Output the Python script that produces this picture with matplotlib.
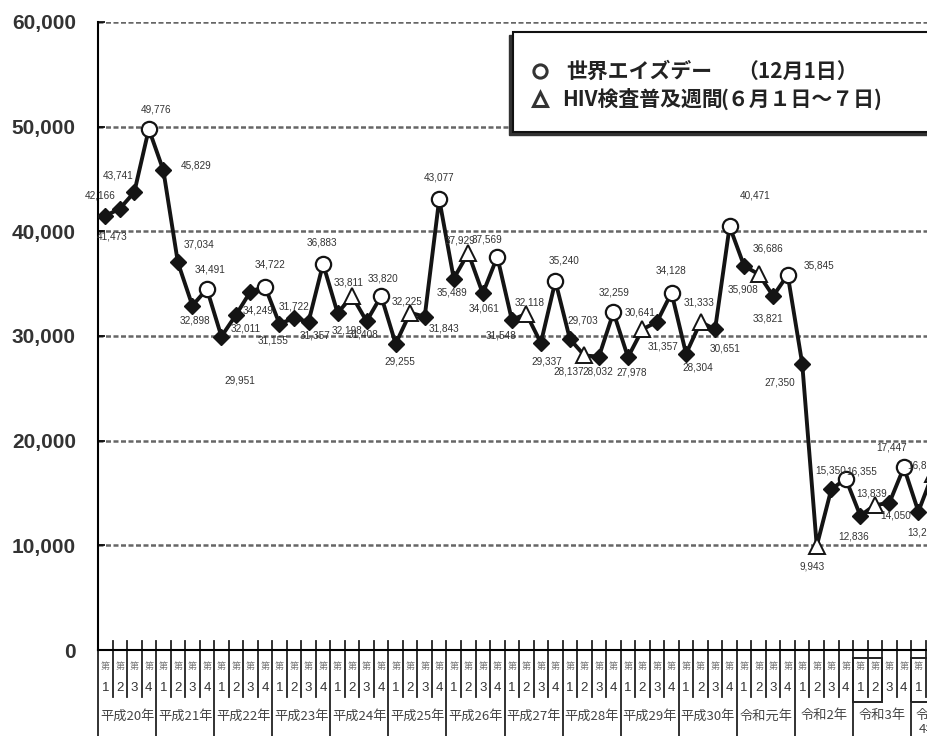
import matplotlib
matplotlib.use('Agg')
import matplotlib.pyplot as plt
from matplotlib.transforms import blended_transform_factory
from matplotlib.patches import Rectangle
from matplotlib.lines import Line2D
from matplotlib.ticker import FuncFormatter

plt.rcParams['font.family'] = ['Liberation Sans', 'Noto Sans CJK JP', 'DejaVu Sans']

# ---------------- data ----------------
years = ['平成20年', '平成21年', '平成22年', '平成23年', '平成24年', '平成25年',
         '平成26年', '平成27年', '平成28年', '平成29年', '平成30年', '令和元年',
         '令和2年', '令和3年', '令和\n4年']
quarter_labels = ['1', '2', '3', '4']

counts = [41473, 42166, 43741, 49776,   # 平成20年
          45829, 37034, 32898, 34491,   # 平成21年
          29951, 32011, 34249, 34722,   # 平成22年
          31155, 31722, 31357, 36883,   # 平成23年
          32198, 33811, 31408, 33820,   # 平成24年
          29255, 32225, 31843, 43077,   # 平成25年
          35489, 37929, 34061, 37569,   # 平成26年
          31548, 32118, 29337, 35240,   # 平成27年
          29703, 28137, 28032, 32259,   # 平成28年
          27978, 30641, 31357, 34128,   # 平成29年
          28304, 31333, 30651, 40471,   # 平成30年
          36686, 35908, 33821, 35845,   # 令和元年
          27350, 9943, 15350, 16355,    # 令和2年
          12836, 13839, 14050, 17447,   # 令和3年
          13228, 16860]                 # 令和4年

# marker kind per quarter: D = normal, T = HIV検査普及週間, O = 世界エイズデー
kinds = list('DDDO' 'DDDO' 'DDDO' 'DDDO' 'DTDO' 'DTDO' 'DTDO' 'DTDO' 'DTDO'
             'DTDO' 'DTDO' 'DTDO' 'DTDO' 'DTDO' 'DT')

legend_lines = ['世界エイズデー', '（12月1日）', 'HIV検査普及週間', '(６月１日～７日)']

# label offsets (pixels, right / down) -- styling only
label_off = [(7, 21), (-20, -13), (-16, -17), (7, -20),
             (33, -5), (21, -18), (3, 15), (3, -19),
             (18, 44), (10, 14), (8, 19), (5, -22),
             (-6, 17), (0, -11), (6, 14), (-1, -21),
             (9, 18), (-3, -14), (-4, 13), (2, -18),
             (4, 18), (-3, -11), (19, 12), (0, -22),
             (-2, 14), (-8, -13), (1, 15), (-10, -17),
             (-11, 16), (3, -11), (6, 19), (9, -21),
             (13, -19), (-16, 16), (-1, 15), (1, -20),
             (4, 15), (-2, -17), (6, 25), (-1, -22),
             (12, 14), (-2, -20), (10, 19), (26, -31),
             (24, -18), (-16, 15), (-5, 22), (31, -9),
             (-22, 19), (-5, 21), (-1, -19), (16, -7),
             (-7, 21), (-3, -12), (6, 13), (-12, -20),
             (4, 21), (-10, -8)]

# ---------------- figure ----------------
W, H = 928, 736
fig = plt.figure(figsize=(W / 100, H / 100), dpi=100)

def fx(px):
    return px / W

def fy(py):
    return (H - py) / H

QW = 14.52
left_px, top_px, bot_px = 98, 22, 650
ax = fig.add_axes([fx(left_px), fy(bot_px), 1 - fx(left_px), (bot_px - top_px) / H])
ax.set_xlim(-0.5, (W - left_px) / QW - 0.5)
ax.set_ylim(0, 60000)

x = list(range(len(counts)))
ax.plot(x, counts, color='#141414', lw=2.8, zorder=3, solid_joinstyle='miter')
for xi, v, k in zip(x, counts, kinds):
    if k == 'D':
        ax.plot(xi, v, marker='D', ms=8.5, color='#141414', zorder=4)
    elif k == 'O':
        ax.plot(xi, v, marker='o', ms=11, mfc='white', mec='#141414', mew=1.6, zorder=4)
    else:
        ax.plot(xi, v, marker='^', ms=11, mfc='white', mec='#141414', mew=1.4, zorder=4)

for xi, v, (dx, dy) in zip(x, counts, label_off):
    ax.annotate(f'{v:,}', (xi, v), xytext=(dx, -dy), textcoords='offset pixels',
                ha='center', va='center', fontsize=7.2, color='#333333',
                zorder=6, annotation_clip=False)

# axes styling
ax.set_yticks(range(0, 60001, 10000))
ax.yaxis.set_major_formatter(FuncFormatter(lambda v, p: f'{int(v):,}'))
ax.tick_params(axis='y', direction='in', length=5, width=1.2, pad=16,
               labelsize=15, labelcolor='#333333')
for lab in ax.get_yticklabels():
    lab.set_fontweight('bold')
ax.set_xticks([])
ax.yaxis.grid(True, linestyle=(0, (2, 1)), color='#666666', lw=1.8)
ax.set_axisbelow(True)
for s in ['top', 'right']:
    ax.spines[s].set_visible(False)
ax.spines['left'].set_linewidth(1.5)
ax.spines['bottom'].set_linewidth(1.5)

# ---------------- category axis table ----------------
tr = blended_transform_factory(ax.transData, fig.transFigure)
nq = len(years) * 4
for k in range(nq + 1):
    b = k - 0.5
    y_end = 736 if k % 4 == 0 else 697
    ax.add_line(Line2D([b, b], [fy(641), fy(y_end)], transform=tr, color='#222222',
                       lw=1.3, clip_on=False))
for k in range(nq):
    ax.text(k, fy(667), '第', transform=tr, ha='center', va='center', fontsize=6.5,
            color='#777777', family=['Noto Sans CJK JP'], clip_on=False)
    ax.text(k, fy(688), quarter_labels[k % 4], transform=tr, ha='center', va='center',
            fontsize=9.5, color='#333333', clip_on=False)
for j, yl in enumerate(years):
    if '\n' in yl:
        ax.text(4 * j + 0.75, fy(722), yl, transform=tr, ha='center', va='center',
                fontsize=9.5, color='#444444', family=['Noto Sans CJK JP'],
                linespacing=1.1, clip_on=False)
    else:
        ax.text(4 * j + 1.5, fy(716), yl, transform=tr, ha='center', va='center',
                fontsize=9.5, color='#444444', family=['Noto Sans CJK JP'], clip_on=False)

# highlighted boxes
ax.add_patch(Rectangle((51.5, fy(702)), 2.0, fy(658) - fy(702), transform=tr,
                       fill=False, ec='#222222', lw=1.4, clip_on=False))
ax.add_patch(Rectangle((55.5, fy(702)), 4.0, fy(658) - fy(702), transform=tr,
                       fill=False, ec='#222222', lw=1.4, clip_on=False))

# ---------------- legend box ----------------
fig.add_artist(Rectangle((fx(509), fy(135)), (1000 - 509) / W, 100 / H,
                         transform=fig.transFigure, fc='#333333', ec='#333333', zorder=10))
fig.add_artist(Rectangle((fx(513), fy(132)), (1000 - 513) / W, 100 / H,
                         transform=fig.transFigure, fc='white', ec='#111111', lw=1.5,
                         zorder=11))
fig.add_artist(Line2D([fx(540)], [fy(71)], transform=fig.transFigure, marker='o', ms=9.5,
                      mfc='white', mec='#333333', mew=2.2, zorder=12))
fig.add_artist(Line2D([fx(540)], [fy(99)], transform=fig.transFigure, marker='^', ms=10,
                      mfc='white', mec='#333333', mew=2.2, zorder=12))
cjk = ['Noto Sans CJK JP', 'DejaVu Sans']
fig.text(fx(566), fy(71), legend_lines[0], ha='left', va='center', fontsize=15,
         fontweight='bold', family=cjk, color='#222222', zorder=12)
fig.text(fx(737), fy(71), legend_lines[1], ha='left', va='center', fontsize=15,
         fontweight='bold', family=cjk, color='#222222', zorder=12)
fig.text(fx(562), fy(99), legend_lines[2], ha='left', va='center', fontsize=15,
         fontweight='bold', family=cjk, color='#222222', zorder=12)
fig.text(fx(720), fy(99), legend_lines[3], ha='left', va='center', fontsize=15,
         fontweight='bold', family=cjk, color='#222222', zorder=12)

fig.savefig('out.png', dpi=100)
